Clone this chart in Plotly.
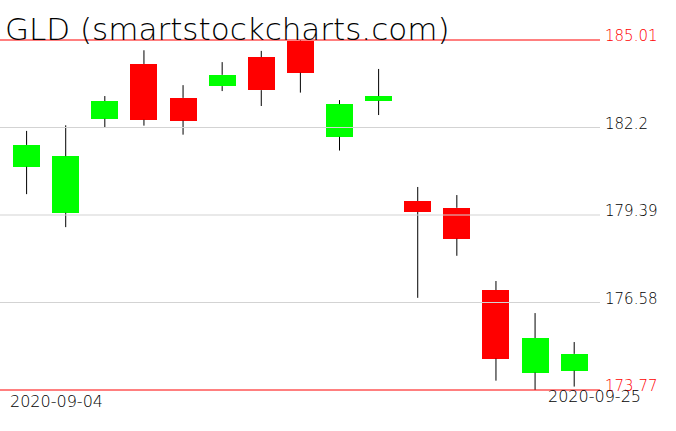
import plotly.graph_objects as go

# ---- data ----
dates = ["2020-09-04", "2020-09-08", "2020-09-09", "2020-09-10", "2020-09-11",
         "2020-09-14", "2020-09-15", "2020-09-16", "2020-09-17", "2020-09-18",
         "2020-09-21", "2020-09-22", "2020-09-23", "2020-09-24", "2020-09-25"]
opens = [180.94, 179.46, 182.48, 184.24, 183.15, 183.53, 184.46, 184.99,
         181.90, 183.06, 179.84, 179.62, 176.98, 174.33, 174.39]
highs = [182.09, 182.27, 183.21, 184.68, 183.56, 184.30, 184.66, 185.01,
         183.08, 184.08, 180.29, 180.03, 177.27, 176.24, 175.31]
lows = [180.06, 179.00, 182.19, 182.26, 181.97, 183.37, 182.89, 183.32,
        181.46, 182.60, 176.73, 178.08, 174.07, 173.77, 173.88]
closes = [181.64, 181.28, 183.05, 182.45, 182.42, 183.89, 183.40, 183.96,
          182.95, 183.21, 179.49, 178.63, 174.78, 175.44, 174.93]
level_values = [185.01, 182.2, 179.39, 176.58, 173.77]
level_labels = ["185.01", "182.2", "179.39", "176.58", "173.77"]
title_text = "GLD (smartstockcharts.com)"

UP = "#00ff00"
DOWN = "#ff0000"
FONT = "DejaVu Sans"

xs = list(range(len(dates)))
body_lo = [min(o, c) for o, c in zip(opens, closes)]
body_hi = [max(o, c) for o, c in zip(opens, closes)]
colors = [UP if c >= o else DOWN for o, c in zip(opens, closes)]

# wick segments (above and below the body)
wx, wy = [], []
for x, h, l, bh, bl in zip(xs, highs, lows, body_hi, body_lo):
    wx += [x, x, None, x, x, None]
    wy += [h, bh, None, bl, l, None]

fig = go.Figure()
fig.add_trace(go.Scatter(x=wx, y=wy, mode="lines",
                         line=dict(color="black", width=1),
                         hoverinfo="skip", showlegend=False))
fig.add_trace(go.Bar(x=xs, y=[hi - lo for hi, lo in zip(body_hi, body_lo)],
                     base=body_lo, width=0.69,
                     marker=dict(color=colors, line=dict(width=0)),
                     showlegend=False))

ymin, ymax = min(lows), max(highs)
pad = 0.032

shapes = []
annotations = []
for v, lab in zip(level_values, level_labels):
    extreme = (v == ymax or v == ymin)
    col = "#ff0000" if extreme else "#d3d3d3"
    shapes.append(dict(type="line", xref="paper", x0=0, x1=1, yref="y",
                       y0=v, y1=v, line=dict(color=col, width=1),
                       layer="above"))
    annotations.append(dict(xref="paper", x=1, xanchor="left", xshift=3,
                            yref="y", y=v, yanchor="bottom", yshift=-7,
                            text=lab, showarrow=False,
                            font=dict(family=FONT, size=15,
                                      color="#ff0000" if extreme else "black",
                                      weight=200)))

annotations.append(dict(xref="paper", x=0, xanchor="left", xshift=3,
                        yref="paper", y=1, yanchor="bottom", yshift=-10,
                        text=title_text, showarrow=False,
                        font=dict(family=FONT, size=31, color="black",
                                  weight=200)))
annotations.append(dict(xref="paper", x=0, xanchor="center", xshift=56,
                        yref="paper", y=0, yanchor="top", yshift=1,
                        text=dates[0], showarrow=False,
                        font=dict(family=FONT, size=16, color="black",
                                  weight=200)))
annotations.append(dict(xref="paper", x=1, xanchor="center", xshift=-6,
                        yref="paper", y=0, yanchor="top", yshift=6,
                        text=dates[-1], showarrow=False,
                        font=dict(family=FONT, size=16, color="black",
                                  weight=200)))

fig.update_layout(
    width=676, height=431,
    margin=dict(l=0, r=76, t=39, b=40),
    paper_bgcolor="white", plot_bgcolor="white",
    barmode="overlay", bargap=0,
    xaxis=dict(range=[-0.68, len(dates) - 1 + 0.66], visible=False),
    yaxis=dict(range=[ymin - pad, ymax + pad], visible=False),
    shapes=shapes, annotations=annotations,
    showlegend=False,
)

fig.write_html("out.html",
               config={"displayModeBar": False},
               post_script="document.body.style.margin='0';")
